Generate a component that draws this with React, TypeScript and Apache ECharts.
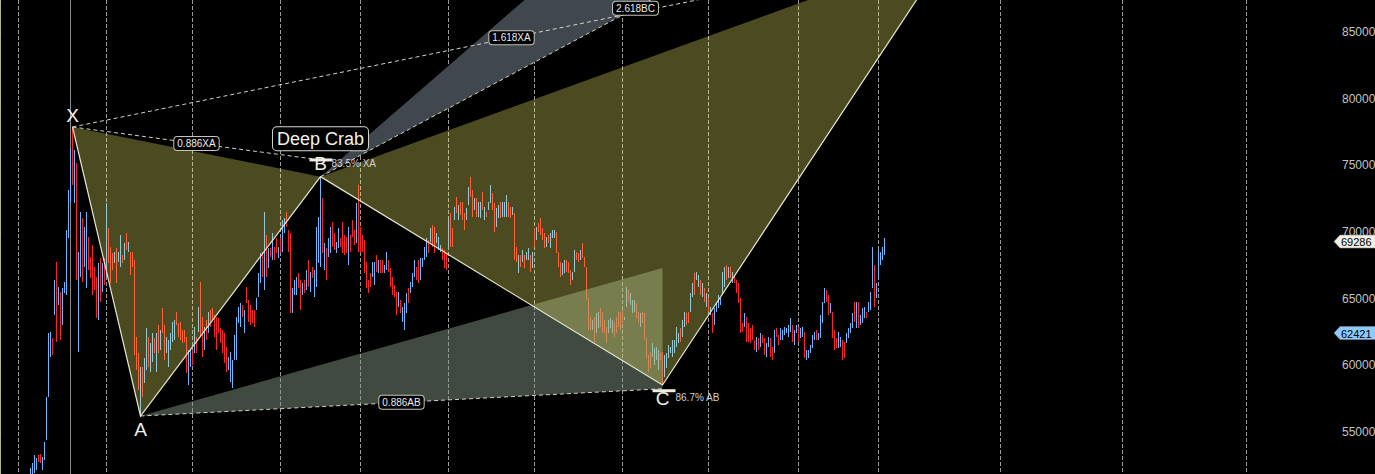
import React, { useEffect, useRef } from "react";
import * as echarts from "echarts";

// ---------- axes ----------
const FIRST_BAR = 15;
const X_MIN = -0.25;
const X_MAX = 668.75;
const Y_MIN = 50000;
const Y_MAX = 87400;
const Y_STEP = 5000;

// ---------- bars (high / low / direction u=up d=down) ----------
const highs1 = [
  52300, 52675, 53275, 53050, 53275, 53350, 53125, 54250, 57625, 62425,
  62500, 62050, 66400, 67750, 65875, 65500, 65800, 66250, 70150, 73150,
  76300, 77875, 76150, 75175, 68500, 71500, 71050, 70375, 71500, 69625,
  68125, 69025, 67375, 66625, 67675, 68050, 67675, 68050, 72175, 70300,
  68875, 68425, 68500, 68800, 68500, 69775, 68275, 69175, 69925, 69250,
  68500, 68500, 67900, 62125, 60925, 59875, 59875, 60550, 62800, 62125,
  61675, 62425, 62050, 62425, 63025,
];
const lows1 = [
  51700, 51800, 51925, 52150, 52750, 52675, 52150, 52900, 54400, 57625,
  60625, 60775, 63775, 61750, 64525, 61900, 63025, 65425, 65275, 69550,
  72250, 73525, 72175, 66400, 61000, 66625, 66250, 67375, 65800, 67150,
  66550, 65275, 65650, 63550, 63400, 64750, 65500, 66025, 66625, 67675,
  66175, 67150, 67675, 66175, 67750, 67375, 67675, 67900, 68650, 68500,
  66775, 67375, 60775, 59650, 58150, 56200, 57625, 58675, 59650, 59875,
  59500, 60250, 60925, 59500, 60925,
];
const dirs1 = "uuuudduuuu" + "udududuuuu" + "ududuuduud" + "ddddududud" + "dduduududu" + "ddddduduud" + "uudud";

const highs2 = [
  62650, 64300, 63025, 62125, 61900, 62425, 63250, 63400, 64000, 63175,
  63250, 62650, 62650, 62125, 61150, 61150, 61150, 62875, 62125, 64375,
  66250, 63625, 62875, 63400, 64000, 64150, 64300, 63775, 63625, 63550,
  62800, 62650, 62425, 61375, 60625, 61000, 60400, 62275, 63625, 64375,
  64675, 64525, 64150, 65875, 64900, 64525, 64150, 64150, 65050, 66925,
  68425, 68500, 71500, 69775, 68800, 68800, 69925, 68875, 69550, 68875,
  69550, 70900, 71050, 71500, 70150, 69925, 65800, 66400, 66625, 66925,
  66400, 66175, 66400,
];
const lows2 = [
  61150, 62425, 60400, 60925, 59875, 61150, 61750, 61900, 63025, 62125,
  61900, 61675, 61750, 59425, 58525, 59875, 60025, 60925, 60925, 62500,
  62125, 60625, 61150, 61900, 62425, 62875, 63400, 62125, 61150, 62425,
  61675, 60925, 60175, 59500, 59650, 58750, 58300, 60400, 60400, 63175,
  62875, 63625, 62425, 64675, 63250, 63025, 63175, 62875, 64150, 65125,
  66175, 66625, 65650, 66625, 67300, 68125, 67900, 67900, 68425, 68050,
  68425, 68500, 69925, 70375, 68500, 63925, 63925, 65275, 65275, 65800,
  64150, 65275, 65425,
];
const dirs2 = "udduuuuudd" + "dddduududu" + "ddududdddd" + "dddduuuuuu" + "ududdddduu" + "ududududdu" + "duuddduuud" + "dud";

const highs3 = [
  67150, 67900, 67000, 67375, 67150, 70375, 71125, 74150, 72550, 69175,
  68800, 69550, 70375, 70750, 69925, 69250, 70300, 69550, 70750, 69775,
  69625, 70375, 69775, 70900, 70150, 72175, 73525, 70375, 69775, 69400,
  67750, 66400, 66925, 67750, 67750, 68275, 67900, 67900, 67900, 67525,
  68500, 67900, 67300, 66625, 66025, 65500, 65500, 64900, 64375, 64675,
  65425, 65800, 66250, 66925, 67900, 67375, 67900, 68050, 68050, 68875,
  69550, 69400, 70300, 70525, 70375, 69925, 69625, 69025, 68800, 68650,
  68425, 71125,
];
const lows3 = [
  65650, 65875, 65500, 66550, 65125, 65875, 67675, 67375, 68425, 67150,
  66400, 68125, 68425, 68875, 68650, 68425, 68800, 68875, 68425, 68275,
  68425, 67525, 68500, 69625, 69025, 69175, 68500, 68425, 68500, 66925,
  65800, 65425, 65875, 66625, 66025, 67000, 66925, 66925, 66925, 66925,
  67150, 67000, 65875, 65275, 65125, 63775, 64375, 63925, 63250, 62650,
  63925, 64675, 65425, 65875, 66625, 66400, 66175, 66400, 67375, 67900,
  68125, 68425, 69250, 68875, 68425, 69175, 68650, 68500, 67900, 67300,
  67150, 68875,
];
const dirs3 = "ududuuuudu" + "duudduuddd" + "dudddudddd" + "ddduududdu" + "uddddduduu" + "uduuudduuu" + "ududduuudd" + "du";

const highs4 = [
  71425, 70300, 71875, 72625, 72025, 72250, 72250, 71425, 71800, 73375,
  74125, 73150, 72550, 72550, 72250, 72250, 73000, 71875, 71500, 72250,
  73525, 72925, 72175, 71800, 72025, 72250, 72250, 72250, 72775, 72250,
  71875, 71875, 71425, 68875, 68275, 68275, 68650, 68275, 68500, 68800,
  68275, 68500, 70300, 70375, 70675, 71050, 70300, 69925, 69625, 69775,
  69925, 70150, 70150, 70000, 68500, 67750, 67675, 67900, 67900, 67750,
  67150, 67000, 68650, 68500, 68425, 68650, 69175, 68125, 67375, 65050,
  63625, 63400, 63625,
];
const lows4 = [
  68875, 68875, 70900, 71425, 70900, 71275, 70900, 70150, 70900, 72025,
  72625, 71125, 71650, 71125, 71125, 71050, 71650, 70900, 71125, 71650,
  72175, 71650, 70000, 70375, 71050, 71050, 71125, 71125, 71125, 71125,
  71050, 71275, 67900, 67750, 66925, 67375, 67750, 67300, 67900, 67900,
  67000, 67300, 68875, 69400, 70000, 69775, 69400, 68800, 68875, 69175,
  68800, 69550, 69550, 68425, 67375, 66625, 66775, 66925, 67000, 66925,
  66025, 66400, 67000, 67900, 67750, 67900, 68050, 67375, 64900, 62650,
  62650, 62650, 61750,
];
const dirs4 = "ddududdduu" + "dduduududu" + "udduuduuud" + "duddududuu" + "dududdddud" + "uuuddduudd" + "duuddudddd" + "dud";

const highs5 = [
  63925, 64000, 64300, 64000, 63400, 62875, 63400, 63550, 63400, 63250,
  63625, 64000, 64000, 64150, 63625, 65875, 65650, 65425, 64900, 64900,
  64675, 64000, 63925, 64000, 63925, 62050, 60775, 61000, 61675, 61300,
  61375, 61150, 60925, 61000, 60775, 60925, 61525, 61375, 61900, 61900,
  62875, 62425, 62800, 63400, 64000, 63925, 64000, 65425, 66175, 66925,
  67000, 66775, 66400, 66175, 65800, 65425, 65050, 64375, 63925, 64300,
  64750, 65275, 65050, 67000, 67375, 67525, 67375, 67375, 67000, 66775,
  66400, 66175,
];
const lows5 = [
  62425, 62800, 62875, 62425, 62425, 61675, 62425, 62800, 62425, 62125,
  62425, 62875, 62650, 63175, 63400, 64375, 64750, 64525, 63925, 64000,
  63550, 63175, 62875, 63175, 61900, 60550, 59500, 59800, 60625, 60025,
  60400, 59650, 60400, 58525, 59125, 59800, 60550, 60925, 60625, 60925,
  61375, 61675, 61750, 62125, 62875, 63025, 63175, 64000, 65125, 65275,
  66400, 65875, 65275, 65125, 64750, 64375, 64000, 63775, 62425, 63025,
  64000, 64300, 64525, 65275, 65875, 66400, 66550, 66550, 66175, 66175,
  65425, 64675,
];
const dirs5 = "uudddduuud" + "dddduuduuu" + "dduddddduu" + "uudduuuuuu" + "uuduudduud" + "uududududu" + "uuuuududud" + "dd";

const highs6 = [
  65050, 63175, 63925, 63625, 63175, 62800, 63025, 61900, 62125, 62050,
  62425, 62275, 62050, 61675, 62125, 62050, 61375, 62650, 62800, 62275,
  62800, 62650, 62875, 62800, 63025, 63550, 63025, 62650, 63025, 62875,
  62800, 62875, 62500, 61150, 61150, 61525, 62275, 62500, 62650, 62425,
  63775, 64750, 65800, 65650, 65275, 64675, 64000, 62650, 62050, 62500,
  62125, 61900, 61750, 62425, 62800, 63175, 63925, 64750, 64750, 64750,
  63775, 64300, 64375, 64000, 64750, 65500, 68875, 67525, 66175, 68650,
  68500, 68875, 69550,
];
const lows6 = [
  62425, 62500, 62875, 61750, 61750, 61675, 61900, 61150, 61000, 61150,
  61375, 61675, 60775, 60625, 61375, 60625, 60400, 60925, 62125, 61525,
  61900, 61900, 62275, 62425, 62125, 62500, 61750, 61525, 62425, 61750,
  62050, 62125, 60550, 60400, 60550, 60925, 61300, 61900, 61900, 61900,
  62050, 63175, 64675, 64750, 63775, 63925, 62050, 61150, 61300, 61300,
  61375, 60400, 60550, 61675, 62050, 62425, 62800, 63250, 62800, 62800,
  63025, 63175, 63550, 63550, 64000, 64150, 65800, 64375, 65050, 66400,
  67525, 67900, 68275,
];
const dirs6 = "ddudddddud" + "udduuddudd" + "uuuuuuduud" + "uuduuuuudu" + "uuuddudddu" + "udduuuudud" + "uuuduuuduu" + "uuu";

const highSegs = [highs1, highs2, highs3, highs4, highs5, highs6];
const lowSegs = [lows1, lows2, lows3, lows4, lows5, lows6];
const dirSegs = [dirs1, dirs2, dirs3, dirs4, dirs5, dirs6];

// ---------- vertical grid lines (bar index) ----------
const gridDashedIdx = [9, 53, 96, 140, 180, 224, 267, 311, 354, 399, 439, 500, 561, 623];
const gridSolidIdx = [35];

// ---------- pattern: X, A, B, C, D ----------
const pointIdx = [36, 70, 160, 331, 475];
const pointPrice = [77875, 56200, 74150, 58525, 91270];
// projection levels
const levelXA0886 = 75404;
const levelXA1618 = 91270;
const levelBC2618 = 99431;
const levelBC3618 = 115056;
const levelAB0886 = 58246;
const levelAB0382 = 67293;

// ---------- price tags ----------
const tagValues = [69286, 62421];
const tagFills = ["#f1f0e4", "#8ccaff"];

const UP = "#6cb8ff";
const DOWN = "#ff2424";
const FONT = "Arial, 'Liberation Sans', sans-serif";

export default function App() {
  const ref = useRef<HTMLDivElement>(null);

  useEffect(() => {
    document.body.style.margin = "0";
    document.body.style.background = "#000";
    const chart = echarts.init(ref.current!, null, { renderer: "svg" });

    const bars: any[] = [];
    let k = 0;
    highSegs.forEach((hs, s) => {
      hs.forEach((h, j) => {
        const d = dirSegs[s][j] === "d" ? 0 : 1;
        bars.push([FIRST_BAR + k, lowSegs[s][j], h, d]);
        k++;
      });
    });

    const renderPattern = (params: any, api: any) => {
      const P = (i: number, v: number) => api.coord([i, v]);
      const [iX, iA, iB, iC, iD] = pointIdx;
      const X = P(iX, pointPrice[0]);
      const A = P(iA, pointPrice[1]);
      const B = P(iB, pointPrice[2]);
      const C = P(iC, pointPrice[3]);
      const D = P(iD, pointPrice[4]);
      const xa886 = P(iB, levelXA0886);
      const xa1618 = P(iD, levelXA1618);
      const bc2618 = P(iD, levelBC2618);
      const bc3618 = P(iD, levelBC3618);
      const ab886 = P(iC, levelAB0886);
      const ab382 = P(iC, levelAB0382);
      const mid = (p: number[], q: number[]) => [(p[0] + q[0]) / 2, (p[1] + q[1]) / 2];
      const yellow = "rgba(250,246,107,0.3)";
      const dashStyle = { stroke: "#d2d2c4", lineWidth: 1, lineDash: [4, 3] };
      const dashLine = (p: number[], q: number[]) => ({
        type: "line",
        shape: { x1: p[0], y1: p[1], x2: q[0], y2: q[1] },
        style: dashStyle,
      });
      const boxLabel = (text: string, p: number[]) => ({
        type: "text",
        x: p[0],
        y: p[1],
        style: {
          text,
          fill: "#ececec",
          font: `10px ${FONT}`,
          align: "center",
          verticalAlign: "middle",
          backgroundColor: "#000",
          borderColor: "#c4c4b8",
          borderWidth: 1,
          borderRadius: 3,
          padding: [2, 3, 1, 3],
        },
      });
      const letter = (text: string, x: number, y: number) => ({
        type: "text",
        x,
        y,
        style: { text, fill: "#f2f2e8", font: `19px ${FONT}`, align: "center", verticalAlign: "middle" },
      });
      const small = (text: string, x: number, y: number) => ({
        type: "text",
        x,
        y,
        style: { text, fill: "#cfcfcf", font: `10px ${FONT}`, align: "left", verticalAlign: "middle" },
      });
      const children: any[] = [
        { type: "polygon", shape: { points: [A, ab382, ab886] }, style: { fill: "rgba(128,148,128,0.5)" } },
        { type: "polygon", shape: { points: [B, bc3618, bc2618] }, style: { fill: "#41474f" } },
        { type: "polygon", shape: { points: [X, A, B] }, style: { fill: yellow } },
        { type: "polygon", shape: { points: [B, C, D] }, style: { fill: yellow } },
        dashLine(X, xa886),
        dashLine(X, xa1618),
        dashLine(B, bc2618),
        dashLine(A, ab886),
        {
          type: "polyline",
          shape: { points: [X, A, B, C, D] },
          style: { stroke: "#e6e6cc", lineWidth: 1.2, fill: "none" },
        },
        boxLabel("0.886XA", mid(X, xa886)),
        boxLabel("1.618XA", mid(X, xa1618)),
        boxLabel("2.618BC", mid(B, bc2618)),
        boxLabel("0.886AB", mid(A, ab886)),
        letter("X", X[0], X[1] - 12),
        letter("A", A[0], A[1] + 13),
        letter("B", B[0], xa886[1] + 4),
        { type: "rect", shape: { x: B[0] - 11, y: xa886[1] - 1.5, width: 23, height: 3 }, style: { fill: "#eeeee0" } },
        small("83.5% XA", B[0] + 11, xa886[1] + 3.5),
        letter("C", C[0], ab886[1] + 9.5),
        { type: "rect", shape: { x: C[0] - 10, y: ab886[1] + 0.5, width: 23, height: 3 }, style: { fill: "#eeeee0" } },
        small("86.7% AB", C[0] + 13, ab886[1] + 9),
        {
          type: "text",
          x: B[0],
          y: B[1] - 38,
          style: {
            text: "Deep Crab",
            fill: "#f2f2e8",
            font: `18px ${FONT}`,
            align: "center",
            verticalAlign: "middle",
            backgroundColor: "#000",
            borderColor: "#d8d8d0",
            borderWidth: 1,
            borderRadius: 4,
            padding: [3, 4, 2, 4],
          },
        },
      ];
      return { type: "group", children };
    };

    const option: any = {
      animation: false,
      backgroundColor: "#000",
      grid: {
        left: 0,
        right: 37,
        top: 0,
        height: (Y_MAX - Y_MIN) / 75,
        containLabel: false,
        outerBoundsMode: "none",
      },
      xAxis: {
        type: "value",
        min: X_MIN,
        max: X_MAX,
        show: false,
        splitLine: { show: false },
      },
      yAxis: {
        type: "value",
        position: "right",
        min: Y_MIN,
        max: Y_MAX,
        interval: Y_STEP,
        axisLine: { show: true, lineStyle: { color: "#b4b494", width: 1 } },
        axisTick: { show: true, inside: true, length: 5, lineStyle: { color: "#c8c8a8" } },
        minorTick: { show: true, splitNumber: 10, length: 3, lineStyle: { color: "#a4a484" } },
        axisLabel: {
          color: "#c2c2c2",
          fontSize: 12,
          fontFamily: FONT,
          margin: 4,
          showMinLabel: false,
          showMaxLabel: false,
          formatter: (v: number) => String(v),
        },
        splitLine: { show: false },
      },
      series: [
        {
          type: "custom",
          name: "grid",
          silent: true,
          z: 1,
          data: gridDashedIdx.map((v) => [v, Y_MIN, 1]).concat(gridSolidIdx.map((v) => [v, Y_MIN, 0])),
          encode: { x: 0, y: 1 },
          renderItem: (params: any, api: any) => {
            const x = api.coord([api.value(0), Y_MIN])[0];
            const cs = params.coordSys;
            const dashed = api.value(2) === 1;
            return {
              type: "line",
              shape: { x1: x, y1: cs.y, x2: x, y2: cs.y + cs.height },
              style: dashed
                ? { stroke: "#9c9c9c", lineWidth: 1, lineDash: [4, 2] }
                : { stroke: "#8a8a8a", lineWidth: 1 },
            };
          },
        },
        {
          type: "custom",
          name: "bars",
          silent: true,
          z: 2,
          data: bars,
          encode: { x: 0, y: [1, 2] },
          renderItem: (params: any, api: any) => {
            const i = api.value(0);
            const lo = api.coord([i, api.value(1)]);
            const hi = api.coord([i, api.value(2)]);
            return {
              type: "line",
              shape: { x1: lo[0], y1: lo[1], x2: hi[0], y2: hi[1] },
              style: { stroke: api.value(3) === 1 ? UP : DOWN, lineWidth: 1 },
            };
          },
        },
        {
          type: "custom",
          name: "pattern",
          silent: true,
          z: 3,
          clip: true,
          data: [[pointIdx[0], pointPrice[0]]],
          encode: { x: 0, y: 1 },
          renderItem: renderPattern,
        },
        {
          type: "custom",
          name: "tags",
          silent: true,
          z: 5,
          clip: false,
          data: tagValues.map((v) => [FIRST_BAR + bars.length - 1, v]),
          encode: { x: 0, y: 1 },
          renderItem: (params: any, api: any) => {
            const v = api.value(1);
            const y = api.coord([0, v])[1];
            const cs = params.coordSys;
            const xr = cs.x + cs.width;
            const fill = tagFills[params.dataIndex];
            return {
              type: "group",
              children: [
                {
                  type: "polygon",
                  shape: {
                    points: [
                      [xr - 4, y],
                      [xr + 2, y - 6.5],
                      [xr + 45, y - 6.5],
                      [xr + 45, y + 6.5],
                      [xr + 2, y + 6.5],
                    ],
                  },
                  style: { fill, stroke: "#8a8a8a", lineWidth: 0.6 },
                },
                {
                  type: "text",
                  x: xr + 3,
                  y: y + 0.5,
                  style: { text: String(v), fill: "#000", font: `11px ${FONT}`, align: "left", verticalAlign: "middle" },
                },
              ],
            };
          },
        },
      ],
    };

    chart.setOption(option);
    return () => chart.dispose();
  }, []);

  return <div ref={ref} style={{ width: 1375, height: 474 }} />;
}
